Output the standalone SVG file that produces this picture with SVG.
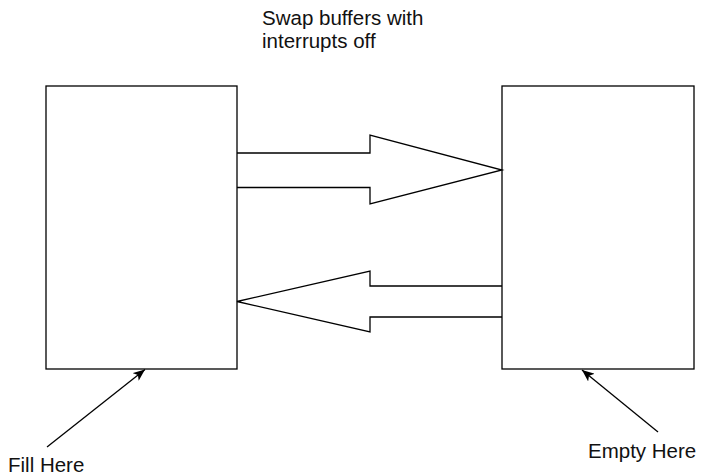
<svg xmlns="http://www.w3.org/2000/svg" width="701" height="476" viewBox="0 0 701 476">
<style>
.box{fill:#fff;stroke:#000;stroke-width:1.3}
.arr{fill:none;stroke:#000;stroke-width:1.3;stroke-linejoin:miter}
.ptr{stroke:#000;stroke-width:1.3;fill:none}
text{font-family:"Liberation Sans",Arial,Helvetica,sans-serif;font-size:20.5px;fill:#111}
</style>
<defs>
<marker id="ah" viewBox="0 0 12 10" refX="12" refY="5" markerWidth="12" markerHeight="10" markerUnits="userSpaceOnUse" orient="auto">
<path d="M0,0 L12,5 L0,10 L3,5 Z" fill="#000"/>
</marker>
</defs>
<g id="fill-buffer"><rect class="box" x="46" y="86" width="191" height="283"/></g>
<g id="empty-buffer"><rect class="box" x="502" y="86" width="192" height="283"/></g>
<g id="connectors">
<path class="arr" d="M237,153 L370,153 L370,135 L502,170 L370,204 L370,187.5 L237,187.5"/>
<path class="arr" d="M502,286 L370,286 L370,271 L237,301.5 L370,332 L370,317 L502,317"/>
<line class="ptr" x1="47" y1="447" x2="145" y2="369.5" marker-end="url(#ah)"/>
<line class="ptr" x1="658" y1="432" x2="582" y2="370" marker-end="url(#ah)"/>
</g>
<g id="label-swap"><text x="262" y="25">Swap buffers with</text><text x="262" y="48">interrupts off</text></g>
<g id="label-fill"><text x="8" y="471.5">Fill Here</text></g>
<g id="label-empty"><text x="588" y="458">Empty Here</text></g>
</svg>
